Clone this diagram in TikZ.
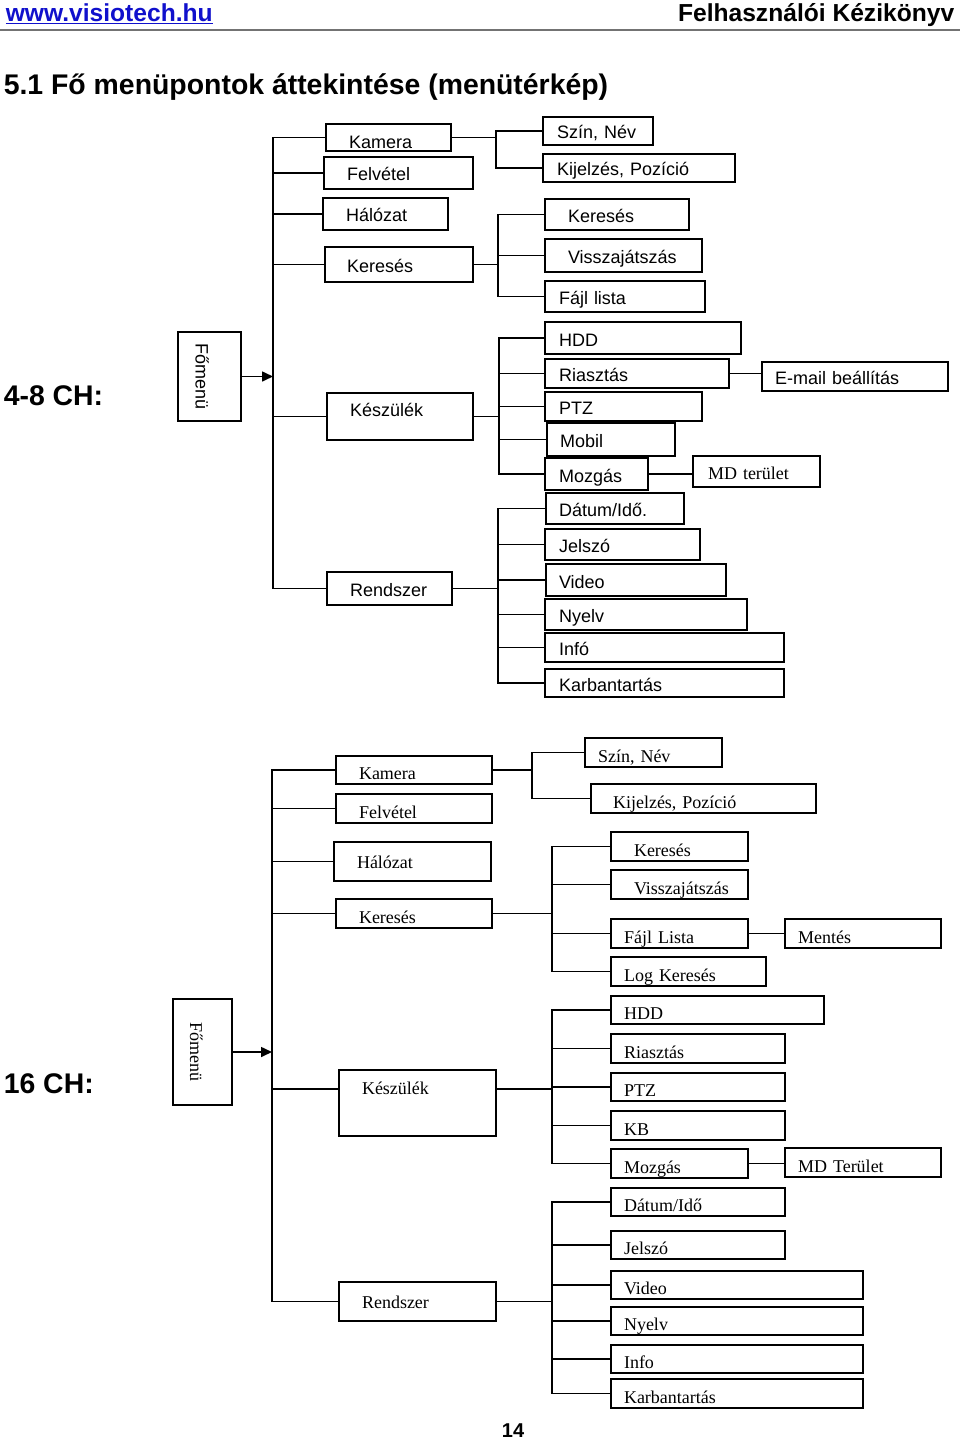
\documentclass[tikz,border=0pt]{standalone}
\usepackage{fontspec}
\setmainfont{Liberation Sans}
\newfontfamily\timesfont{Liberation Serif}
\usetikzlibrary{arrows.meta}

\definecolor{linkblue}{RGB}{16,16,204}
\newcommand{\boxfont}{\fontsize{18}{21}\selectfont}
\newcommand{\serifbox}{\timesfont\fontsize{18}{21}\selectfont}
\newcommand{\headfont}{\fontsize{24.6}{28}\selectfont\bfseries}
\newcommand{\titlefont}{\fontsize{28.4}{32}\selectfont\bfseries}

\tikzset{
  mitem/.style={draw, anchor=north west, inner sep=0pt, outer sep=0pt, align=left, font=\boxfont,
                text height=18pt, text depth=2pt},
  fomenu/.style={draw, rotate=-90, inner sep=0pt, outer sep=0pt},
  toarrow/.style={-{Triangle[length=11pt,width=10pt]}}
}

% box from (x1,y1) to (x2,y2), text starts #7 after the left side
\newcommand{\mitem}[8][]{%
  \pgfmathsetmacro{\mitemw}{#5-#3}%
  \pgfmathsetmacro{\mitemh}{#6-#4}%
  \pgfmathsetmacro{\mitemt}{#5-#3-2*#7}%
  \node[mitem, minimum width=\mitemw pt, minimum height=\mitemh pt, text width=\mitemt pt, #1] (#2) at (#3,#4) {\mbox{#8}};%
}

\begin{document}
\begin{tikzpicture}[x=1pt, y=-1pt, line width=1.6pt]
        \useasboundingbox (0,0) rectangle (960,1439);

        % Page header and title
        \node[anchor=base west, inner sep=0pt, font=\headfont, text=linkblue] (url) at (5,22) {\underline{www.visiotech.hu}};
        \node[anchor=base east, inner sep=0pt, font=\headfont] (book) at (955,22) {Felhasználói Kézikönyv};
        \draw[black!55, line width=2pt] (0,30) -- (960,30);
        \node[anchor=base west, inner sep=0pt, font=\titlefont] (title) at (3,95) {5.1 Fő menüpontok áttekintése (menütérkép)};

        % 4-8 CH menu map
        \node[anchor=base west, inner sep=0pt, font=\titlefont] (cha) at (3,405) {4-8 CH:};
        \node[fomenu, minimum width=89pt, minimum height=63pt, text height=28pt, font=\boxfont] (foa) at (209.5,376.5) {Főmenü};

        \mitem[text height=25pt]{kam}{326}{124}{451}{149}{23}{Kamera}
        \mitem{fel}{324}{157}{473}{189}{23}{Felvétel}
        \mitem{hal}{323}{198}{448}{230}{23}{Hálózat}
        \mitem{ker}{325}{247}{473}{282}{22}{Keresés}
        \mitem[text depth=18pt]{kes}{327}{393}{473}{440}{23}{Készülék}
        \mitem{ren}{327}{572}{452}{605}{23}{Rendszer}

        \mitem{szin}{543}{117}{653}{145}{14}{Szín, Név}
        \mitem{kij}{543}{154}{735}{182}{14}{Kijelzés, Pozíció}
        \mitem{kers}{545}{199}{689}{230}{23}{Keresés}
        \mitem{vis}{545}{239}{702}{272}{23}{Visszajátszás}
        \mitem{fajl}{545}{281}{705}{312}{14}{Fájl lista}
        \mitem{hdd}{545}{322}{741}{354}{14}{HDD}
        \mitem{ria}{545}{359}{729}{388}{14}{Riasztás}
        \mitem{ema}{762}{362}{948}{391}{13}{E-mail beállítás}
        \mitem{ptz}{545}{392}{702}{421}{14}{PTZ}
        \mitem{mob}{547}{423}{675}{456}{13}{Mobil}
        \mitem{moz}{545}{458}{648}{490}{14}{Mozgás}
        \mitem[font=\serifbox]{mdt}{693}{456}{820}{487}{15}{MD terület}
        \mitem{dat}{546}{493}{684}{524}{13}{Dátum/Idő.}
        \mitem{jel}{545}{529}{700}{560}{14}{Jelszó}
        \mitem{vid}{546}{564}{726}{596}{13}{Video}
        \mitem{nye}{545}{599}{747}{630}{14}{Nyelv}
        \mitem{inf}{545}{633}{784}{662}{14}{Infó}
        \mitem{kar}{545}{669}{784}{697}{14}{Karbantartás}

        % Connect the first map
        \draw[toarrow] (foa.north) -- ++(32,0) coordinate (ta);
        \foreach \c in {kam,fel,hal,ker,kes,ren} \draw (\c.west) -| (ta);
        \draw (kam.east) -- ++(45,0) coordinate (ja);
        \foreach \c in {szin,kij} \draw (\c.west) -| (ja);
        \draw (ker.east) -- ++(25,0) coordinate (jb);
        \foreach \c in {kers,vis,fajl} \draw (\c.west) -| (jb);
        \draw (kes.east) -- ++(26,0) coordinate (jc);
        \foreach \c in {hdd,ria,ptz,mob,moz} \draw (\c.west) -| (jc);
        \draw (ren.east) -- ++(46,0) coordinate (jd);
        \foreach \c in {dat,jel,vid,nye,inf,kar} \draw (\c.west) -| (jd);
        \draw (ria.east) -- (ria.east -| ema.west);
        \draw (moz.east) -- (moz.east -| mdt.west);

        % 16 CH menu map
        \node[anchor=base west, inner sep=0pt, font=\titlefont] (chb) at (3,1093) {16 CH:};
        \begin{scope}[mitem/.append style={font=\serifbox, text height=21pt}]
        \node[fomenu, minimum width=106pt, minimum height=59pt, text height=25pt, font=\serifbox] (fob) at (202.5,1052) {Főmenü};

        \mitem{kamb}{336}{756}{492}{784}{23}{Kamera}
        \mitem{felb}{336}{794}{492}{823}{23}{Felvétel}
        \mitem[text height=15pt]{halb}{334}{842}{491}{881}{23}{Hálózat}
        \mitem{kerb}{336}{899}{492}{928}{23}{Keresés}
        \mitem[text depth=39pt]{kesb}{339}{1070}{496}{1136}{23}{Készülék}
        \mitem[text height=15pt]{renb}{339}{1282}{496}{1321}{23}{Rendszer}

        \mitem{szinb}{585}{738}{722}{767}{13}{Szín, Név}
        \mitem{kijb}{591}{784}{816}{813}{22}{Kijelzés, Pozíció}
        \mitem{kersb}{611}{832}{748}{861}{23}{Keresés}
        \mitem{visb}{611}{870}{748}{899}{23}{Visszajátszás}
        \mitem{fajlb}{611}{919}{748}{948}{13}{Fájl Lista}
        \mitem{ment}{785}{919}{941}{948}{13}{Mentés}
        \mitem{logb}{611}{957}{766}{986}{13}{Log Keresés}
        \mitem{hddb}{611}{996}{824}{1024}{13}{HDD}
        \mitem{riab}{611}{1034}{785}{1063}{13}{Riasztás}
        \mitem{ptzb}{611}{1073}{785}{1101}{13}{PTZ}
        \mitem{kb}{611}{1111}{785}{1140}{13}{KB}
        \mitem{mozb}{611}{1149}{748}{1178}{13}{Mozgás}
        \mitem{mdtb}{785}{1148}{941}{1177}{13}{MD Terület}
        \mitem{datb}{611}{1188}{785}{1216}{13}{Dátum/Idő}
        \mitem{jelb}{611}{1231}{785}{1259}{13}{Jelszó}
        \mitem{vidb}{611}{1271}{863}{1299}{13}{Video}
        \mitem{nyeb}{611}{1307}{863}{1335}{13}{Nyelv}
        \mitem{infb}{611}{1345}{863}{1373}{13}{Info}
        \mitem{karb}{611}{1379}{863}{1408}{13}{Karbantartás}
        \end{scope}

        % Connect the second map
        \draw[toarrow] (fob.north) -- ++(40,0) coordinate (tb);
        \foreach \c in {kamb,felb,halb,kerb,renb} \draw (\c.west) -| (tb);
        \draw ([yshift=14pt]kesb.west) -| (tb);
        \draw (kamb.east) -- ++(40,0) coordinate (je);
        \foreach \c in {szinb,kijb} \draw (\c.west) -| (je);
        \draw (kerb.east) -- ++(60,0) coordinate (jf);
        \foreach \c in {kersb,visb,fajlb,logb} \draw (\c.west) -| (jf);
        \draw ([yshift=14pt]kesb.east) -- ++(56,0) coordinate (jg);
        \foreach \c in {hddb,riab,ptzb,kb,mozb} \draw (\c.west) -| (jg);
        \draw (renb.east) -- ++(56,0) coordinate (jh);
        \foreach \c in {datb,jelb,vidb,nyeb,infb,karb} \draw (\c.west) -| (jh);
        \draw (fajlb.east) -- (fajlb.east -| ment.west);
        \draw (mozb.east) -- (mozb.east -| mdtb.west);

        % Page number
        \node[anchor=base, inner sep=0pt, font=\fontsize{20}{24}\selectfont\bfseries] (page) at (513,1437) {14};
\end{tikzpicture}
\end{document}
